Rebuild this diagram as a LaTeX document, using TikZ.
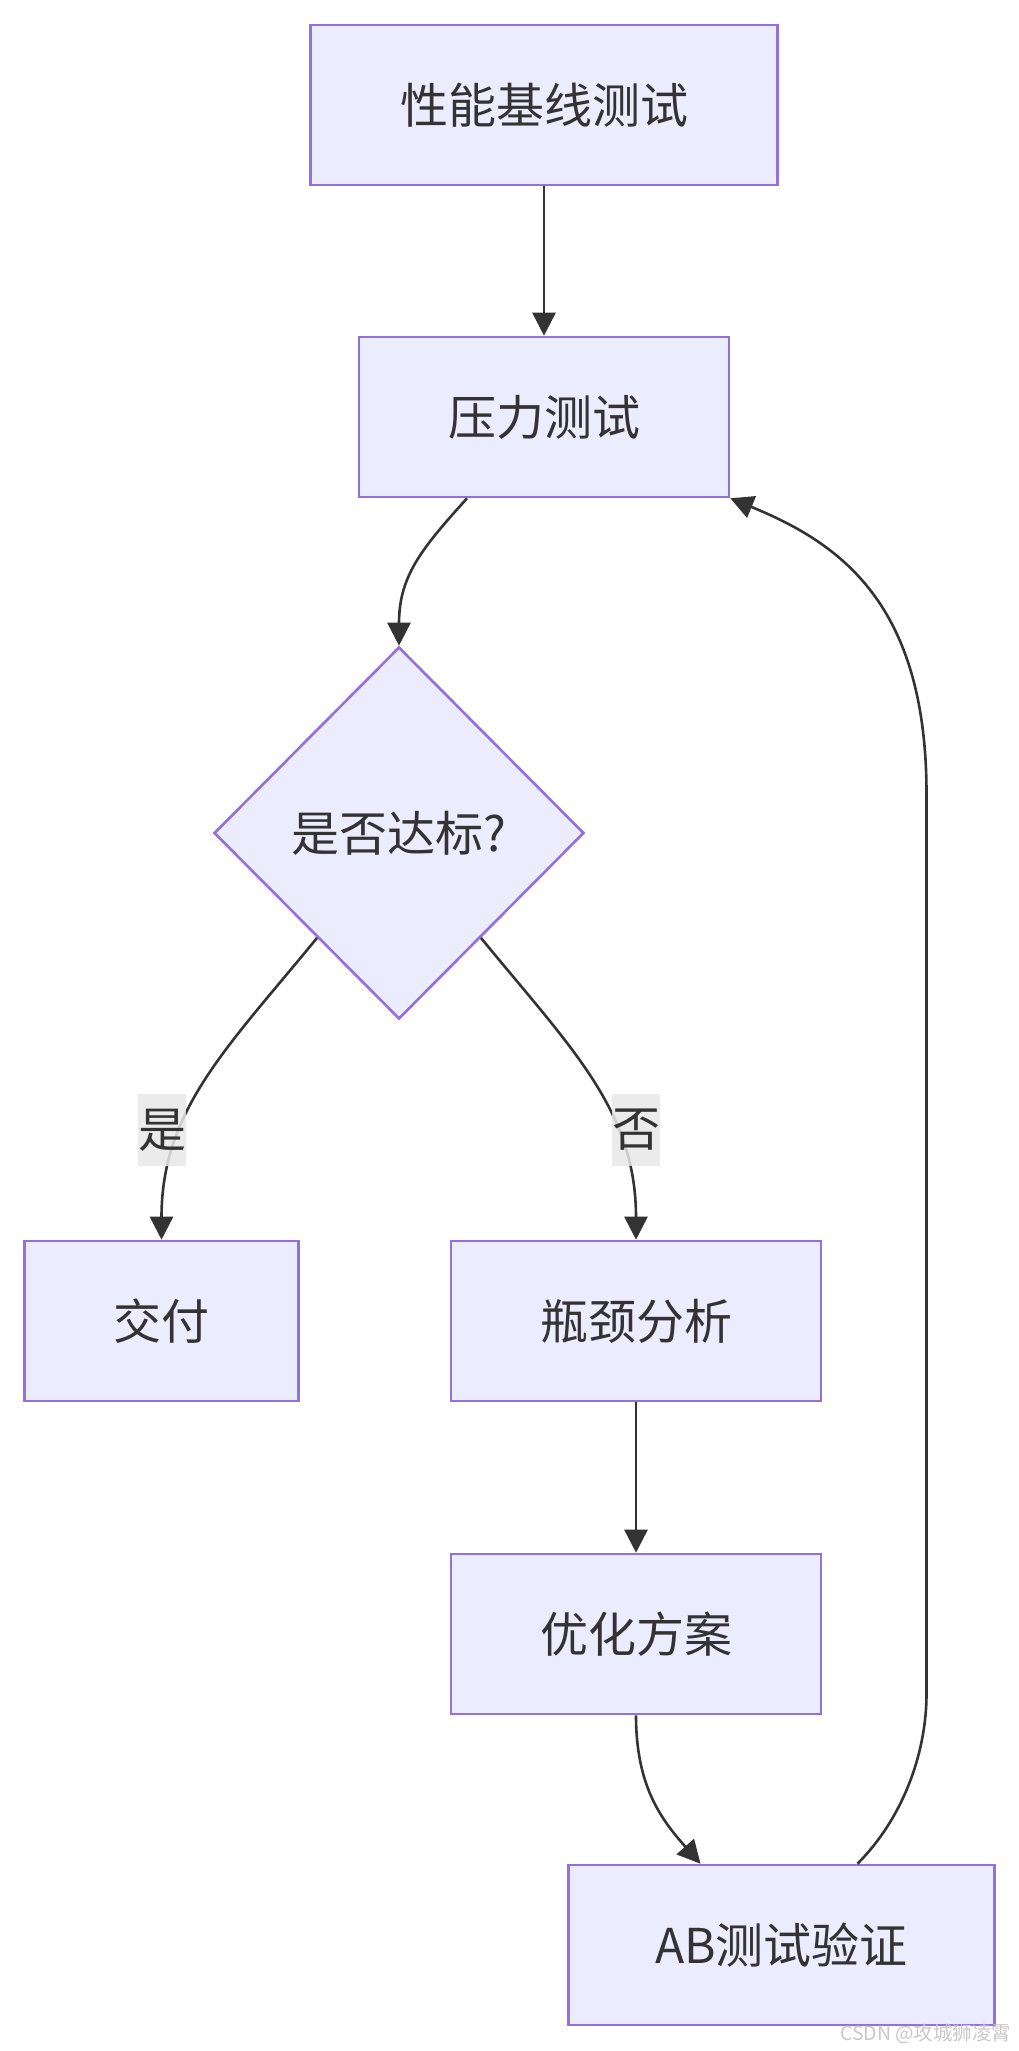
\documentclass[tikz,border=0pt]{standalone}
\usepackage{fontspec}
\setmainfont{Noto Sans CJK SC}
\usepackage{xcolor}
\usetikzlibrary{shapes.geometric,arrows.meta,calc}

\definecolor{boxfill}{HTML}{ECECFF}
\definecolor{boxline}{HTML}{9370DB}
\definecolor{edgeline}{HTML}{333333}
\definecolor{lblfill}{HTML}{E8E8E8}
\definecolor{wmgray}{HTML}{C8C8C8}

\begin{document}
\begin{tikzpicture}[x=1pt, y=-1pt,
		every node/.style={font=\fontsize{48}{58}\selectfont, text=edgeline},
		proc/.style={draw=boxline, fill=boxfill, line width=2.6pt, minimum height=160pt, inner sep=0pt},
		decide/.style={diamond, aspect=1, draw=boxline, fill=boxfill, line width=2.6pt, minimum width=370pt, minimum height=372pt, inner sep=0pt},
		flow/.style={draw=edgeline, line width=2.6pt, -{Triangle[length=23pt,width=23pt]}},
		lbl/.style={fill=lblfill, fill opacity=0.85, text opacity=1, inner sep=0pt, minimum width=47pt, minimum height=72pt}]
		\useasboundingbox (0,0) rectangle (1019,2051);
		% boxes
		\node[proc, minimum width=467pt] (base) at (544,105) {性能基线测试};
		\node[proc, minimum width=370pt] (press) at (544,417) {压力测试};
		\node[decide] (check) at (399,833) {是否达标?};
		\node[proc, minimum width=274pt] (ship) at (161.5,1321) {交付};
		\node[proc, minimum width=370pt] (neck) at (636,1321) {瓶颈分析};
		\node[proc, minimum width=370pt] (plan) at (636,1634) {优化方案};
		\node[proc, minimum width=426pt] (abtest) at (781.5,1945) {AB测试验证};
		% edges
		\draw[flow] (base) -- (press);
		\draw[flow] ([xshift=-77pt]press.south) .. controls +(-45,50) and +(0,-70) .. (check.north);
		\draw[flow] ($(check.west)!0.56!(check.south)$) .. controls +(-90,110) and +(0,-130) .. (ship.north);
		\draw[flow] ($(check.east)!0.56!(check.south)$) .. controls +(90,110) and +(0,-130) .. (neck.north);
		\draw[flow] (neck) -- (plan);
		\draw[flow] (plan.south) .. controls +(0,70) and +(-40,-45) .. ([xshift=-81pt]abtest.north);
		\draw[flow] ([xshift=76pt]abtest.north) .. controls +(45,-45) and +(0,60) .. ++(69,-170) -- ++(0,-900) .. controls +(0,-190) and +(110,45) .. (press.south east);
		% edge labels
		\node[lbl] (yes) at (162,1130) {是};
		\node[lbl] (no) at (636,1130) {否};
		\node[font=\fontsize{19.5}{22}\selectfont, text=wmgray, anchor=east] (mark) at (1015,2034) {CSDN @攻城狮凌霄};
	\end{tikzpicture}
\end{document}
